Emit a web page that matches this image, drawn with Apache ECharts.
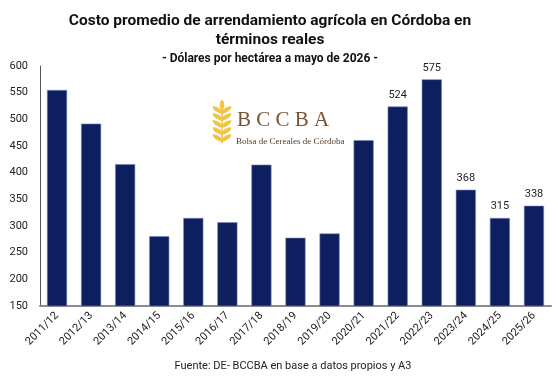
<!DOCTYPE html>
<html><head><meta charset="utf-8">
<script src="https://cdn.jsdelivr.net/npm/echarts@6/dist/echarts.min.js"></script>
<style>html,body{margin:0;padding:0;background:#fff}#c{width:558px;height:382px}</style>
</head><body><div id="c"></div>
<script>
const categories = ['2011/12','2012/13','2013/14','2014/15','2015/16','2016/17','2017/18','2018/19','2019/20','2020/21','2021/22','2022/23','2023/24','2024/25','2025/26'];
const values = [555, 492, 416, 281, 315, 307, 415, 278, 286, 461, 524, 575, 368, 315, 338];
const labeledFrom = 10; // labels shown from 2021/22 onward
const yTicks = {min: 150, max: 600, interval: 50};
const titleText = 'Costo promedio de arrendamiento agrícola en Córdoba en\ntérminos reales';
const subtitleText = '- Dólares por hectárea a mayo de 2026 -';
const sourceText = 'Fuente: DE- BCCBA en base a datos propios y A3';

const chart = echarts.init(document.getElementById('c'), null, {renderer: 'canvas'});
const gold = '#f2c443';
const wheat = [];
const stemX = 222;
[108,115,122,129,136].forEach((y)=>{
  wheat.push({type:'ellipse', shape:{cx:0, cy:0, rx:2.2, ry:6.2}, x: stemX-4, y: y+2, rotation: 1.0, style:{fill: gold}, silent:true});
  wheat.push({type:'ellipse', shape:{cx:0, cy:0, rx:2.2, ry:6.2}, x: stemX+4, y: y+2, rotation: -1.0, style:{fill: gold}, silent:true});
});
wheat.push({type:'ellipse', shape:{cx:stemX, cy:105, rx:2.3, ry:5}, style:{fill: gold}, silent:true});

chart.setOption({
  animation: false,
  title: [{
    text: titleText,
    left: 265, top: 7, textAlign: 'center',
    textStyle: {fontFamily: 'Roboto', fontWeight: 'bold', fontSize: 15.5, lineHeight: 19, color: '#111'}
  },{
    text: subtitleText,
    left: 265, top: 48, textAlign: 'center',
    textStyle: {fontFamily: 'Roboto', fontWeight: 'bold', fontSize: 12, color: '#111'}
  },{
    text: sourceText,
    left: 288, top: 356, textAlign: 'center',
    textStyle: {fontFamily: 'Roboto', fontWeight: 'normal', fontSize: 11, color: '#222'}
  }],
  grid: {left: 40, right: 7, top: 66, bottom: 76, containLabel: false},
  xAxis: {
    type: 'category', data: categories,
    axisLine: {show: true, lineStyle: {color: '#8c8c8c', width: 2}},
    axisTick: {show: false},
    axisLabel: {rotate: 45, fontSize: 11, color: '#222', fontFamily: 'Roboto', margin: 8, interval: 0}
  },
  yAxis: {
    type: 'value', min: yTicks.min, max: yTicks.max, interval: yTicks.interval,
    axisLine: {show: true, lineStyle: {color: '#555', width: 1}},
    axisTick: {show: false},
    splitLine: {show: false},
    axisLabel: {fontSize: 11, color: '#222', fontFamily: 'Roboto', margin: 12}
  },
  series: [{
    type: 'bar',
    data: values.map((v,i)=>({value: v, label: {show: i >= labeledFrom}})),
    barCategoryGap: '41%',
    itemStyle: {color: '#0d1f5f', borderColor: '#7c88c0', borderWidth: 0.6},
    label: {position: 'top', fontSize: 11, color: '#222', fontFamily: 'Roboto', distance: 6}
  }],
  graphic: wheat.concat([
    {type:'line', shape:{x1:stemX, y1:108, x2:stemX, y2:143}, style:{stroke: gold, lineWidth: 1.5}, silent:true},
    {type:'text', left: 237, top: 110, style:{text:'B C C B A', font:'21px "Liberation Serif", serif', fill:'#7a5433'}, silent:true},
    {type:'text', left: 236, top: 137, style:{text:'Bolsa de Cereales de Córdoba', font:'9px "Liberation Serif", serif', fill:'#5a3a22'}, silent:true}
  ])
});
</script></body></html>
